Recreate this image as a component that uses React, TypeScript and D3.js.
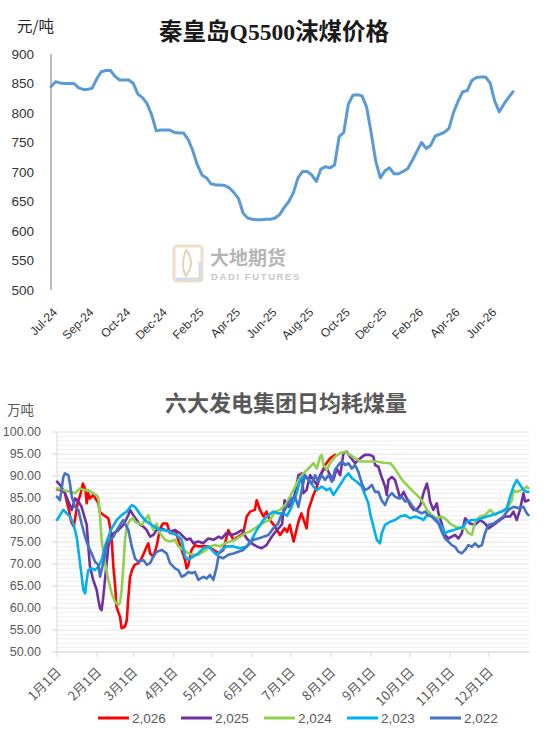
import React from "react";
import * as d3 from "d3";

// ---------- Top chart data ----------
const priceTitle = "秦皇岛Q5500沫煤价格";
const priceUnit = "元/吨";
const priceTickLabels = ["Jul-24","Sep-24","Oct-24","Dec-24","Feb-25","Apr-25","Jun-25","Aug-25","Oct-25","Dec-25","Feb-26","Apr-26","Jun-26"];
const priceYTicks = [500, 550, 600, 650, 700, 750, 800, 850, 900];
const priceValues = [
  845, 853, 851, 850, 850, 850, 843, 840, 840, 842,
  858, 870, 872, 872, 862, 856, 856, 856, 850, 832,
  826, 816, 797, 770, 771, 771, 771, 767, 766, 766,
  755, 736, 712, 695, 690, 680, 678, 678, 677, 673,
  665, 655, 630, 622, 620, 619, 619, 620, 620, 622,
  628, 640, 650, 665, 690, 701, 701, 695, 684, 705,
  709, 707, 712, 760, 767, 815, 830, 831, 829, 810,
  766, 718, 690, 702, 707, 697, 697, 701, 706, 720,
  735, 750, 740, 745, 761, 764, 767, 774, 801, 820,
  836, 838, 855, 860, 861, 861, 851, 820, 802, 815,
  826, 836
];

// ---------- Bottom chart data ----------
const burnTitle = "六大发电集团日均耗煤量";
const burnUnit = "万吨";
const monthLabels = ["1月1日","2月1日","3月1日","4月1日","5月1日","6月1日","7月1日","8月1日","9月1日","10月1日","11月1日","12月1日"];
const monthStartDays = [0, 31, 59, 90, 120, 151, 181, 212, 243, 273, 304, 334];
const burnYTicks = [50, 55, 60, 65, 70, 75, 80, 85, 90, 95, 100];
const seriesNames = ["2,026", "2,025", "2,024", "2,023", "2,022"];
const seriesColors = ["#FF0000", "#7030A0", "#92D050", "#00B0F0", "#4472C4"];

const s2026: [number, number][] = [
  [0,87],[3,86.8],[6,86.2],[9,82.5],[11,79.6],[13,78.5],[16,84],[18,85.7],[20,88.3],[22,86.8],[23,83.8],[24,86.1],[25.5,84.9],[28,85.7],[32,83.8],[33,81.9],[36,81.1],[39.7,80.4],[41,78.5],[42.3,75.5],[43.6,69.4],[45,64.9],[46,60.3],[48.7,58],[50,55.4],[52.6,55.8],[54,57.3],[55,61.8],[56.5,67.1],[58,68.6],[60,69.8],[63,70.2],[65.5,71.3],[69.4,74],[70.6,74.7],[72,72.4],[74.5,71.7],[77,74],[79.7,78.1],[82,79.2],[85,79.2],[87.4,77],[91.3,77.7],[93.8,75.5],[96.4,73.2],[99,70.9],[100.3,69],[101.6,69.8],[104,73.2],[106.7,74.3],[109,74],[113,74],[117,74],[121,73.2],[125,72.4],[128.6,73.2],[132.5,77.7],[136.4,75.5],[140,76.2],[144,77],[146.7,80.8],[149.3,81.9],[153,82.3],[154.4,84.5],[157,82.3],[159.6,80.8],[162,81.9],[164.7,80],[168.6,78.5],[172.5,76.6],[176,78.1],[178,77.3],[180,78.9],[183,75.1],[186.7,79.6],[189,81.5],[193,78.1],[194.4,82.3],[198.3,85.7],[201,87.6],[203.4,89.8],[207.3,92.5],[211.2,94],[215,94.8]
];
const s2025: [number, number][] = [
  [0,88.7],[2.3,88],[6.2,86.1],[8.8,84.2],[11.4,82.3],[14,84.9],[16.5,84.2],[19,83],[23,78.9],[24.2,74],[25.5,69.4],[28,66.4],[30.7,64.1],[32,61.8],[33.3,59.9],[34.5,59.5],[35.8,62.6],[37.1,66.4],[38.4,70.2],[39.7,74],[41,75.5],[43.6,77],[46.2,77.4],[48.7,78.1],[51.3,78.9],[52.6,79.6],[55.2,81.1],[56.5,82.3],[59,81.1],[61.6,80],[64.2,78.9],[66.8,78.5],[69.4,77.7],[72,76.2],[74.5,76.6],[77,77.7],[81,78.1],[83.5,77.7],[87.4,77.4],[91.3,77.7],[95,77],[97.7,76.2],[100.3,75.5],[103,75.8],[105.4,74.7],[109.3,75.1],[113,74.7],[117,75.8],[121,75.5],[125,76.2],[127.4,75.8],[131,77],[135,76.6],[139,77],[142.8,77.7],[146.7,75.8],[150.5,74.7],[154.4,74],[158.3,73.6],[162,74.3],[166,76.2],[170,77.7],[174,79],[176,84.5],[179,83],[182,84],[184,86],[186.7,90.2],[189.3,90.6],[190.5,86.1],[193,86.8],[195.7,90.2],[198.3,89.1],[201,88],[203.4,90.2],[206,91.4],[208.6,91.7],[211.2,90.2],[213.7,89.1],[216.3,91.7],[219,90.2],[221.5,95.2],[224,95.5],[226.6,94.4],[230.5,92.9],[234.4,94],[238,94.8],[242,94.8],[244.7,94.4],[246,92.5],[248.5,92.1],[251,89.8],[253.7,87.6],[255,85.7],[256.3,89.1],[259,89.8],[261.4,89.1],[264,86.4],[265.3,84.9],[268,86.4],[270.5,84.9],[273,83.4],[275.6,82.3],[278,82.3],[281,83.4],[283.4,86.1],[286,88.3],[287.2,86.8],[288.5,84.2],[291,82.3],[293.7,83.8],[295,81.5],[297.5,79.2],[300,76.6],[302.7,75.8],[305.3,76.2],[307.8,76.6],[310.4,75.8],[313,77],[315.6,80.4],[319.4,79.2],[323.3,78.9],[327.2,80],[331,79.2],[333.6,78.1],[337.5,78.9],[342.6,80],[346.5,80.8],[350.4,80.8],[353,81.9],[355.5,80],[358,82.3],[360.7,86.1],[362,84.2],[364.6,84.5]
];
const s2024: [number, number][] = [
  [0,87.2],[5,86.8],[10,86.4],[14,86.1],[17.8,87.2],[20.4,86.8],[24.2,86.8],[28,86.1],[31,85.5],[32,84.9],[33.3,80.8],[34.5,75.5],[37.1,70.2],[39.7,66.4],[42.3,63.3],[44.9,61.4],[47.4,60.7],[48.7,61.1],[50,64.1],[51.3,69.4],[52.6,75.5],[53.9,78.5],[56.5,80],[59,80.4],[60.3,79.6],[63,79.2],[65.5,78.9],[68,80],[70.6,81.1],[72,79.6],[74.5,77.7],[77,79.2],[79.7,77],[83.5,75.5],[87.4,75.1],[91.3,75.5],[93.8,74],[97.7,73.2],[101.6,72.4],[105.4,72.1],[109.3,72.1],[113.2,72.8],[118.3,74],[122.2,74.3],[126,74],[130,74.7],[133.8,75.1],[137.7,75.5],[141.5,76.2],[145.4,77],[149.3,77.4],[153,78.1],[157,78.9],[161,79.6],[164.7,80],[168.6,81.9],[172.5,82.3],[177.7,83.8],[182.8,86.8],[186.7,89.1],[190.5,90.6],[194.4,91.7],[198.3,92.9],[201,91.7],[203.4,94.4],[204.7,94.8],[206,92.5],[208.6,91.4],[211.2,92.9],[215,94.4],[219,95.2],[222.8,95.5],[226.6,94.8],[230.5,94],[234.4,93.3],[238,93.3],[242,93.3],[247.3,93.3],[252.4,93],[257.6,92.9],[260.2,92.1],[262.7,91],[265.3,89.8],[268,88.7],[270.5,88],[274.3,86.8],[278.2,85.7],[280.8,84.9],[283.4,83.8],[286,82.3],[289.8,81.1],[293.7,80.4],[297.5,80.8],[301.4,80],[304,79.2],[307.8,78.5],[311.7,78.1],[315.6,78.1],[318.2,77],[320.8,76.6],[323.3,79.6],[327.2,80.8],[331,81.1],[335,82.3],[338.8,81.1],[342.6,81.9],[347.8,82.3],[351.7,84.5],[353,86.8],[355.5,86.4],[359.4,86.8],[363.3,87.6],[364.6,87.2]
];
const s2023: [number, number][] = [
  [0,80],[2.3,81.1],[4.9,82.3],[7.5,81.5],[10,80.8],[12.6,79.2],[15.2,76.2],[17.8,70.2],[20.4,64.1],[21.7,63.3],[23,66.4],[24.2,68.6],[26.8,69],[29.4,68.6],[32,69.4],[34.5,70.9],[37.1,74],[39.7,76.2],[42.3,78.1],[46.2,80],[50,81.1],[53.9,81.9],[57.8,83.4],[60.3,83],[62.9,81.9],[65.5,80.8],[69.4,79.6],[73.2,78.9],[77.1,78.1],[81,77.7],[84.8,77.7],[88.7,77],[92.6,76.6],[96.4,75.5],[99,71.7],[101.6,70.9],[105.4,71.7],[109.3,72.4],[113.2,73.6],[117,74],[120.9,72.8],[123.5,72.1],[127.4,73.2],[131.2,74],[136.4,74],[141.5,73.6],[146.7,74],[150.5,75.5],[154.4,77.7],[159.6,80],[163.5,81.1],[167.3,81.9],[171.2,81.5],[175,81.5],[178,81],[181.5,83],[185.4,86.1],[188,89.1],[191.8,90.2],[195.7,88.7],[198.3,87.6],[201,86.8],[204.7,87.6],[208.6,86.8],[211.2,87.2],[213.7,85.7],[216.3,86.8],[219,88],[222.8,89.8],[225.4,90.6],[228,89.5],[231.8,88.7],[235.7,87.6],[238.2,85.7],[240.8,83.8],[242.1,81.5],[244.7,78.5],[247.3,75.5],[249.8,74.7],[251.1,77],[253.7,78.9],[257.6,79.6],[261.4,80],[265.3,80.8],[269.2,81.1],[273,80.4],[277,80.8],[281,80.4],[283.4,80],[286,81.1],[289.8,80.8],[293.7,80],[297.5,78.5],[300,77],[302.7,77.4],[306.5,77.7],[310.4,78.1],[314.3,78.5],[316.8,79.6],[320.7,80],[324.6,80],[328.5,80.4],[332.3,80.8],[336.2,81.1],[340,81.5],[344,81.9],[347.8,82.7],[350.4,85.3],[353,87.6],[355.5,89.1],[358,88],[360.7,86.8],[363.3,86.4],[364.6,86.4]
];
const s2022: [number, number][] = [
  [0,85.3],[2.3,84.5],[4.9,89.8],[6.2,90.6],[8.8,90.2],[10,88.3],[11.4,85.3],[14,83],[16.5,82.3],[19,79.2],[21.7,76.2],[24.2,74],[26.8,72.4],[29.4,70.5],[32,69.8],[33.3,67.1],[34.5,68.6],[37.1,72.1],[38.4,74.7],[41,75.5],[43.6,76.2],[46.2,77.7],[48.7,78.9],[51.3,80],[55.2,77.7],[57.8,74],[60.3,71.3],[62.9,70.5],[66.8,70.9],[69.4,69.8],[72,70.2],[74.5,71.7],[77,72.8],[81,73.2],[84.8,72.4],[87.4,70.2],[91.3,69],[93.8,68.6],[96.4,67.1],[99,67.5],[101.6,68.2],[104.2,67.9],[106.7,68.2],[109.3,66.4],[113.2,67.1],[115.8,66.7],[118.3,67.5],[120.9,66.4],[123.5,69.4],[124.8,71.7],[128.6,71.3],[132.5,72.1],[136.4,72.4],[140.2,72.8],[144,73.2],[148,74.3],[151.8,75.5],[155.7,75.8],[159.6,76.2],[163.5,76.6],[167.3,78.1],[171,79.2],[173,80.8],[176.3,82.3],[179,83.8],[181.5,84.9],[184,85.3],[186.7,83],[189.3,86.8],[191.8,90.2],[194.4,89.1],[197,88.3],[199.6,90.2],[202,88.7],[204.7,90.2],[207.3,89.1],[210,90.2],[212.5,88.7],[215,91.4],[217.6,92.5],[220.2,93.3],[222.8,92.5],[225.4,92.9],[228,91.7],[230.5,92.5],[233,91],[235.7,88.3],[238.2,86.8],[240.8,87.2],[243.4,88],[246,86.4],[248.5,86.4],[251,84.5],[253.7,83.4],[256.3,85.3],[259,86.1],[261.4,85.3],[264,84.9],[266.6,85.3],[269.2,84.2],[271.7,84.5],[274.3,83.4],[277,82.3],[279.5,81.9],[282,81.5],[284.7,81.9],[287.2,81.1],[289.8,80.8],[292.4,80],[295,79.2],[297.5,77.4],[300,75.8],[302.7,75.1],[305.3,74.3],[307.8,73.9],[310.4,72.8],[313,72.4],[315.6,73.2],[318.2,74.3],[320.8,73.9],[323.3,74.7],[326,73.9],[328.5,74.3],[331,77],[333.6,78.9],[337.5,79.2],[341.4,80],[345.2,80.8],[349,82.3],[353,83],[356.8,82.7],[360.7,83],[363.3,81.5],[364.6,81.1]
];
const seriesData = [s2026, s2025, s2024, s2023, s2022];

const CJK = "'Noto Sans CJK SC', 'Noto Sans', sans-serif";
const NUM = "'Liberation Sans', 'Noto Sans CJK SC', sans-serif";

export default function App() {
  // top scales
  const xT = d3.scaleLinear().domain([0, priceValues.length - 1]).range([51, 513]);
  const yT = d3.scaleLinear().domain([500, 900]).range([290, 54]);
  const priceLine = d3.line<number>().x((_, i) => xT(i)).y((d) => yT(d));

  // bottom scales
  const xB = d3.scaleLinear().domain([0, 365]).range([57, 529]);
  const yB = d3.scaleLinear().domain([50, 100]).range([652, 432]);
  const burnLine = d3.line<[number, number]>().x((d) => xB(d[0])).y((d) => yB(d[1]));
  const minorTicks = d3.range(50, 100.5, 1);

  const drawOrder = [0, 1, 2, 3, 4];

  return (
    <svg width={550} height={733} style={{ position: "absolute", left: 0, top: 0, background: "#fff" }}>
      <rect x={0} y={0} width={550} height={733} fill="#fff" />

      {/* ===== Top chart ===== */}
      <text x={274} y={40} textAnchor="middle" fontSize={23.5} fontWeight="bold"
        fontFamily="'Liberation Serif', 'Noto Sans CJK SC', serif" fill="#1a1a1a">{priceTitle}</text>
      <text x={17} y={32} fontSize={15.5} fontFamily={CJK} fill="#262626">{priceUnit}</text>

      {/* watermark */}
      <g opacity={0.75}>
        <rect x={174} y={246} width={28} height={35} rx={3} fill="none" stroke="#e6d7b5" strokeWidth={3} />
        <path d="M176 279 L200 279 L200 262" fill="none" stroke="#c9d1e3" strokeWidth={3} />
        <path d="M186 250 Q196 262 186 276 Q180 266 186 250 Z" fill="none" stroke="#d9c7a0" strokeWidth={2} />
        <text x={210} y={265} fontSize={19} fontFamily={CJK} fontWeight="bold" fill="#9e9e9e">大地期货</text>
        <text x={211} y={280} fontSize={9.5} fontFamily={NUM} fontWeight="bold" letterSpacing={1.6} fill="#b5b5b5">DADI FUTURES</text>
      </g>

      <line x1={51} x2={51} y1={54} y2={290} stroke="#a6a6a6" strokeWidth={1.5} />
      {priceYTicks.map((t) => (
        <text key={t} x={34} y={yT(t)} dy="0.35em" textAnchor="end" fontSize={13.5} fontFamily={NUM} fill="#333">{t}</text>
      ))}
      {priceTickLabels.map((lab, k) => {
        const x = xT(k * 8) + 7;
        const y = 313;
        return (
          <text key={lab} x={x} y={y} textAnchor="end" fontSize={12} fontFamily={NUM} fill="#333"
            transform={`rotate(-45 ${x} ${y})`}>{lab}</text>
        );
      })}
      <path d={priceLine(priceValues) || ""} fill="none" stroke="#5B9BD5" strokeWidth={3} strokeLinejoin="round" strokeLinecap="round" />

      {/* ===== Bottom chart ===== */}
      <text x={286} y={411} textAnchor="middle" fontSize={22} fontWeight="bold" fontFamily={CJK} fill="#595959">{burnTitle}</text>
      <text x={7} y={415} fontSize={13.5} fontFamily={CJK} fill="#595959">{burnUnit}</text>

      {minorTicks.map((t) => (
        <line key={"g" + t} x1={57} x2={529} y1={yB(t)} y2={yB(t)} stroke={t % 5 === 0 ? "#e4e4e4" : "#efefef"} strokeWidth={1} />
      ))}
      <line x1={57} x2={57} y1={432} y2={652} stroke="#d9d9d9" strokeWidth={1} />
      <line x1={57} x2={529} y1={652} y2={652} stroke="#d9d9d9" strokeWidth={1} />
      {burnYTicks.map((t) => (
        <g key={"y" + t}>
          <line x1={52} x2={57} y1={yB(t)} y2={yB(t)} stroke="#d9d9d9" />
          <text x={41} y={yB(t)} dy="0.35em" textAnchor="end" fontSize={12.5} fontFamily={NUM} fill="#595959">{d3.format(".2f")(t)}</text>
        </g>
      ))}
      {monthStartDays.map((d, k) => {
        const x = xB(d);
        const lx = x + 5;
        const ly = 673;
        return (
          <g key={"m" + k}>
            <line x1={x} x2={x} y1={652} y2={657} stroke="#d9d9d9" />
            <text x={lx} y={ly} textAnchor="end" fontSize={13} fontFamily={CJK} fill="#595959"
              transform={`rotate(-45 ${lx} ${ly})`}>{monthLabels[k]}</text>
          </g>
        );
      })}
      {drawOrder.map((i) => (
        <path key={"s" + i} d={burnLine(seriesData[i]) || ""} fill="none" stroke={seriesColors[i]} strokeWidth={2.6}
          strokeLinejoin="round" strokeLinecap="round" />
      ))}

      {/* legend */}
      {seriesNames.map((name, i) => {
        const lx = 98 + i * 83;
        return (
          <g key={"l" + i}>
            <line x1={lx} x2={lx + 31} y1={718} y2={718} stroke={seriesColors[i]} strokeWidth={3} />
            <text x={lx + 34} y={718} dy="0.35em" fontSize={13.5} fontFamily={NUM} fill="#595959">{name}</text>
          </g>
        );
      })}
    </svg>
  );
}
